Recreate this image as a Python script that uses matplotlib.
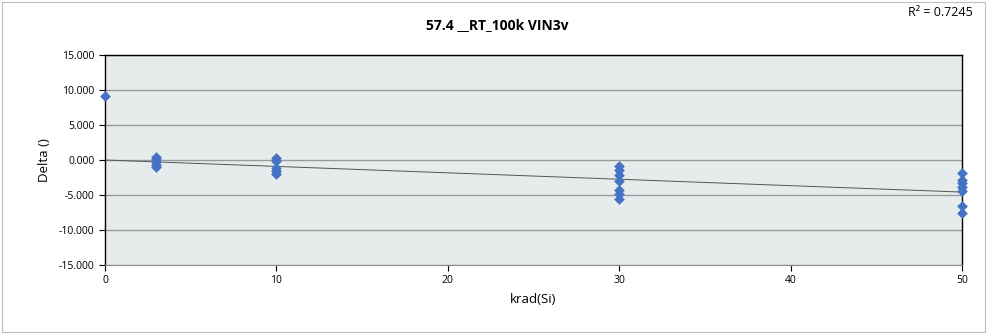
import numpy as np
import matplotlib
matplotlib.use("Agg")
import matplotlib.pyplot as plt
from matplotlib.patches import Rectangle

plt.rcParams['font.family'] = ['Open Sans', 'DejaVu Sans']

title = "57.4 __RT_100k VIN3v"
x_label = "krad(Si)"
y_label = "Delta ()"
r2_text = "R² = 0.7245"

x_vals = [0,
          3, 3, 3, 3, 3,
          10, 10, 10, 10, 10,
          30, 30, 30, 30, 30, 30, 30,
          50, 50, 50, 50, 50, 50, 50]
y_vals = [9.1,
          0.5, 0.1, -0.3, -0.7, -1.0,
          0.3, -0.1, -1.2, -1.6, -2.0,
          -0.9, -1.4, -2.2, -3.0, -4.3, -4.9, -5.5,
          -1.8, -2.8, -3.3, -3.9, -4.4, -6.6, -7.5]
y_ticks = [-15, -10, -5, 0, 5, 10, 15]
x_ticks = [0, 10, 20, 30, 40, 50]

x = np.array(x_vals, dtype=float)
y = np.array(y_vals, dtype=float)
slope = np.sum(x * y) / np.sum(x * x)

fig = plt.figure(figsize=(9.88, 3.35), dpi=100)
ax = fig.add_axes([105/988, 1-265/335, (962-105)/988, (265-55)/335])
ax.set_facecolor('#E6ECEC')

for t in y_ticks:
    ax.axhline(t, color='#9A9A9A', lw=1.0, zorder=1)

xl = np.array([0, 50])
ax.plot(xl, slope * xl, color='#555555', lw=0.7, zorder=2)
ax.scatter(x, y, marker='D', s=30, color='#4472C4', zorder=3, linewidths=0, clip_on=False)

ax.set_xlim(0, 50)
ax.set_ylim(-15, 15)
ax.set_xticks(x_ticks)
ax.set_yticks(y_ticks)
ax.set_yticklabels([f"{v:.3f}" for v in y_ticks])
ax.tick_params(axis='both', labelsize=7.5, length=4, width=0.8, colors='#000000')
ax.tick_params(axis='x', pad=3)
for s in ['left', 'top', 'right']:
    ax.spines[s].set_color('black')
    ax.spines[s].set_linewidth(1.0)
ax.spines['bottom'].set_color('#8C8C8C')
ax.spines['bottom'].set_linewidth(0.8)

ax.set_xlabel(x_label, fontsize=9.5, labelpad=5)
ax.set_ylabel(y_label, fontsize=9.5, labelpad=6)

fig.text(497/988, 1-25/335, title, ha='center', va='center', fontsize=10, fontweight='bold')
fig.text(973/988, 1-12/335, r2_text, ha='right', va='center', fontsize=9)

fig.patches.append(Rectangle((1.5/988, 3/335), (985-1.5)/988, (333-3)/335, transform=fig.transFigure,
                             fill=False, edgecolor='#BFBFBF', lw=0.8))

fig.savefig("out.png", dpi=100)
